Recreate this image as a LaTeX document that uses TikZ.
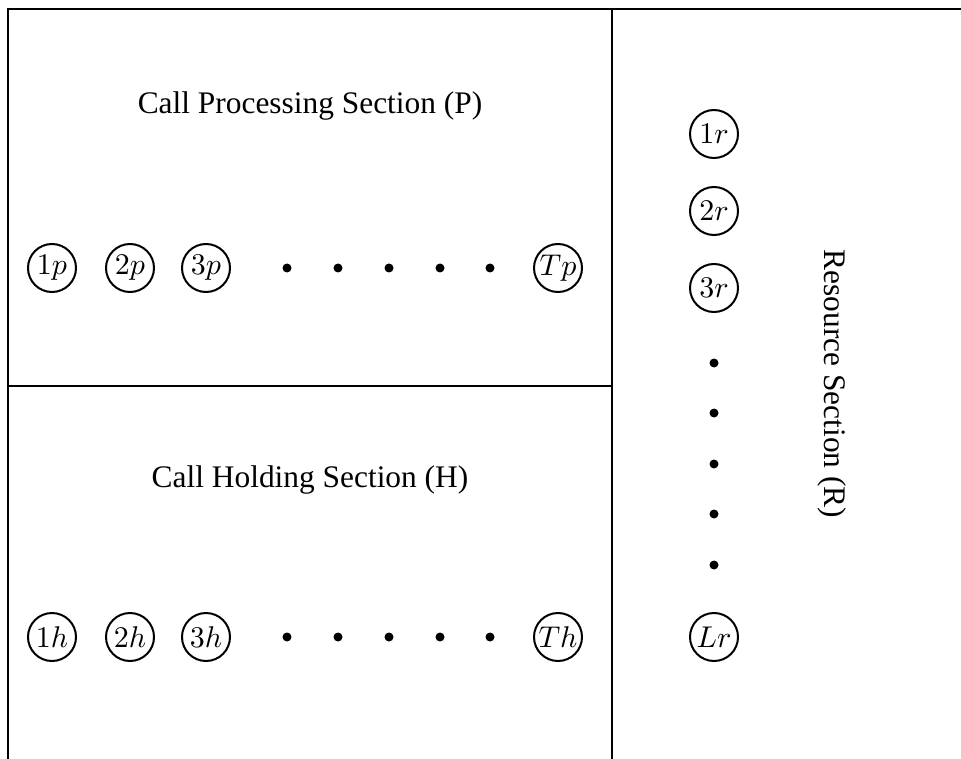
\documentclass[tikz,border=0pt]{standalone}
\usepackage{graphicx}
\usepackage{fontspec}
\setmainfont{Liberation Serif}
% unit labels: math italic enlarged to the circle size
\newcommand{\ulabel}[1]{\scalebox{3.0}{$#1$}}
\begin{document}
\begin{tikzpicture}[x=1pt,y=-1pt,
  wall/.style={line width=2.6pt},
  unit/.style={circle,draw,line width=2pt,minimum size=48pt,inner sep=0pt},
  dot/.style={circle,fill,inner sep=0pt,minimum size=9pt},
  title/.style={font=\fontsize{31.4}{36}\selectfont,inner sep=0pt}]
\useasboundingbox (0,0) rectangle (961,759);
% frame and section walls
\coordinate (tl) at (8,9);
\coordinate (tr) at (961,9);
\coordinate (bl) at (8,759);
\coordinate (mt) at (612,9);
\coordinate (mb) at (612,759);
\coordinate (hl) at (8,386);
\coordinate (hr) at (612,386);
\draw[wall] (bl) -- (tl) -- (tr);
\draw[wall] (mt) -- (mb);
\draw[wall] (hl) -- (hr);
% section titles
\node[title] (tP) at (310,106) {Call Processing Section (P)};
\node[title] (tH) at (310,480) {Call Holding Section (H)};
\node[title,rotate=-90] (tR) at (832,384) {Resource Section (R)};
% call processing row
\node[unit] (p1) at (52,268) {\ulabel{1p}};
\node[unit] (p2) at (130,268) {\ulabel{2p}};
\node[unit] (p3) at (206,268) {\ulabel{3p}};
\foreach \x [count=\i] in {287,338,389,440,490}
  \node[dot] (pd\i) at (\x,268) {};
\node[unit] (pT) at (558,268) {\ulabel{Tp}};
% call holding row
\node[unit] (h1) at (52,637) {\ulabel{1h}};
\node[unit] (h2) at (130,637) {\ulabel{2h}};
\node[unit] (h3) at (206,637) {\ulabel{3h}};
\foreach \x [count=\i] in {287,338,389,440,490}
  \node[dot] (hd\i) at (\x,637) {};
\node[unit] (hT) at (558,637) {\ulabel{Th}};
% resource column
\node[unit] (r1) at (714,134) {\ulabel{1r}};
\node[unit] (r2) at (714,211) {\ulabel{2r}};
\node[unit] (r3) at (714,288) {\ulabel{3r}};
\foreach \y [count=\i] in {363,413,464,514,565}
  \node[dot] (rd\i) at (714,\y) {};
\node[unit] (rL) at (714,637) {\ulabel{Lr}};
\end{tikzpicture}
\end{document}
